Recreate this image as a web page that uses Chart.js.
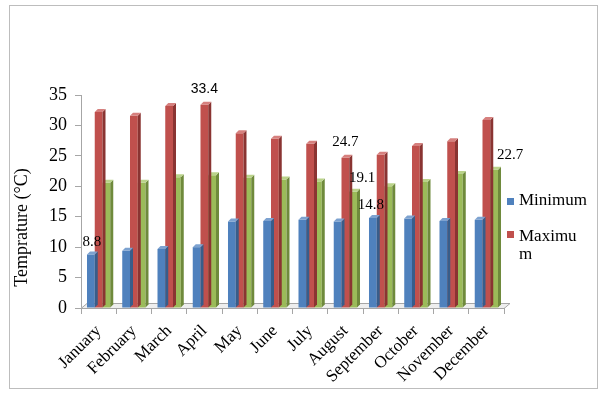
<!DOCTYPE html>
<html><head><meta charset="utf-8">
<script src="https://cdn.jsdelivr.net/npm/chart.js@4.4.0/dist/chart.umd.min.js"></script>
<style>
html,body{margin:0;padding:0;background:#fff;}
#wrap{position:relative;width:600px;height:395px;}
#frame{position:absolute;left:9px;top:5px;width:587px;height:382px;border:1px solid #bdbdbd;pointer-events:none;}
.leg{position:absolute;font-family:"Liberation Serif",serif;font-size:17px;color:#000;line-height:18px;}
.sw{position:absolute;width:7px;height:7px;}
</style></head><body>
<div id="wrap">
<canvas id="c" width="600" height="395"></canvas>
<div id="frame"></div>
<div class="sw" style="left:507px;top:198px;background:#4F81BD"></div>
<div class="leg" style="left:519px;top:191px">Minimum</div>
<div class="sw" style="left:507px;top:231px;background:#C0504D"></div>
<div class="leg" style="left:519px;top:227px">Maximu<br>m</div>
</div>
<script>
const months = ["January","February","March","April","May","June","July","August","September","October","November","December"];
const minimum = [8.8, 9.4, 9.7, 10.0, 14.2, 14.3, 14.5, 14.2, 14.8, 14.7, 14.3, 14.5];
const maximum = [32.2, 31.6, 33.2, 33.4, 28.7, 27.8, 27.0, 24.7, 25.2, 26.6, 27.4, 30.9];
const average = [20.6, 20.6, 21.5, 21.8, 21.4, 21.1, 20.8, 19.1, 20.0, 20.7, 22.0, 22.7];
const yTicks = [0, 5, 10, 15, 20, 25, 30, 35];
const yTitle = "Temprature (°C)";

const faces = [
  {front:"#4F81BD", side:"#385D8A", top:"#7DA2D0"},
  {front:"#C0504D", side:"#8A3432", top:"#D6807E"},
  {front:"#9BBB59", side:"#6F8A3C", top:"#BAD38A"}
];
const D = 3;

const labelSpecs = [
  {ds:0, i:0, dx:1, dy:-12, font:'15px "Liberation Serif"'},
  {ds:1, i:3, dx:0, dy:-16, font:'14px "Liberation Sans"'},
  {ds:1, i:7, dx:0, dy:-16, font:'15px "Liberation Serif"'},
  {ds:2, i:7, dx:9, dy:-14, font:'15px "Liberation Serif"'},
  {ds:0, i:8, dx:-2, dy:-13, font:'15px "Liberation Serif"'},
  {ds:2, i:11, dx:16, dy:-15, font:'15px "Liberation Serif"'}
];

function poly(ctx, pts, fill) {
  ctx.beginPath();
  ctx.moveTo(pts[0][0], pts[0][1]);
  for (let k = 1; k < pts.length; k++) ctx.lineTo(pts[k][0], pts[k][1]);
  ctx.closePath();
  ctx.fillStyle = fill;
  ctx.fill();
}

const threeD = {
  id: "threeD",
  beforeDatasetsDraw(chart) {
    const {ctx, chartArea: a} = chart;
    ctx.save();
    poly(ctx, [[a.left, a.bottom], [a.right, a.bottom], [a.right + 6, a.bottom - 5], [a.left + 6, a.bottom - 5]], "#eeeeee");
    ctx.strokeStyle = "#a6a6a6";
    ctx.lineWidth = 1;
    ctx.beginPath();
    ctx.moveTo(a.left, a.bottom + 0.5); ctx.lineTo(a.right, a.bottom + 0.5);
    ctx.lineTo(a.right + 6, a.bottom - 4.5); ctx.lineTo(a.left + 6, a.bottom - 4.5);
    ctx.lineTo(a.left, a.bottom + 0.5);
    ctx.stroke();
    ctx.restore();
  },
  afterDatasetDraw(chart, args) {
    const ctx = chart.ctx;
    const f = faces[args.index];
    ctx.save();
    args.meta.data.forEach(bar => {
      const p = bar.getProps(["x", "y", "base", "width"], true);
      const x0 = p.x - p.width / 2, x1 = p.x + p.width / 2;
      poly(ctx, [[x1, p.y], [x1 + D, p.y - D], [x1 + D, p.base - D], [x1, p.base]], f.side);
      poly(ctx, [[x0, p.y], [x1, p.y], [x1 + D, p.y - D], [x0 + D, p.y - D]], f.top);
    });
    ctx.restore();
  },
  afterDraw(chart) {
    const ctx = chart.ctx;
    ctx.save();
    ctx.fillStyle = "#000";
    ctx.textAlign = "center";
    ctx.textBaseline = "middle";
    labelSpecs.forEach(s => {
      const el = chart.getDatasetMeta(s.ds).data[s.i];
      const v = chart.data.datasets[s.ds].data[s.i];
      ctx.font = s.font;
      ctx.fillText(v.toFixed(1), el.x + s.dx, el.y + s.dy);
    });
    const a = chart.chartArea;
    ctx.translate(22, (a.top + a.bottom) / 2 + 26);
    ctx.rotate(-Math.PI / 2);
    ctx.font = '18px "Liberation Serif"';
    ctx.fillText(yTitle, 0, 0);
    ctx.restore();
  }
};

new Chart(document.getElementById("c"), {
  type: "bar",
  data: {
    labels: months,
    datasets: [
      {label: "Minimum", data: minimum, backgroundColor: faces[0].front},
      {label: "Maximum", data: maximum, backgroundColor: faces[1].front},
      {label: "Average", data: average, backgroundColor: faces[2].front}
    ]
  },
  options: {
    responsive: false,
    animation: false,
    events: [],
    datasets: {bar: {categoryPercentage: 0.66, barPercentage: 1.0, borderWidth: 0}},
    layout: {padding: {left: 0, right: 96, top: 95, bottom: 0}},
    plugins: {legend: {display: false}, tooltip: {enabled: false}, title: {display: false}},
    scales: {
      x: {
        grid: {display: true, drawOnChartArea: false, drawTicks: true, tickLength: 6, color: "#a6a6a6", offset: true},
        border: {display: false},
        ticks: {minRotation: 45, maxRotation: 45, font: {family: "Liberation Serif", size: 17}, color: "#000", padding: 7, autoSkip: false},
        afterFit(s) { s.height = 87; }
      },
      y: {
        min: 0, max: 35,
        afterBuildTicks(s) { s.ticks = yTicks.map(v => ({value: v})); },
        ticks: {font: {family: "Liberation Serif", size: 18}, color: "#000", padding: 8},
        grid: {display: true, drawOnChartArea: false, drawTicks: true, tickLength: 6, color: "#a6a6a6"},
        border: {display: true, color: "#a6a6a6"},
        afterFit(s) { s.width = 81; }
      }
    }
  },
  plugins: [threeD]
});
</script>
</body></html>
